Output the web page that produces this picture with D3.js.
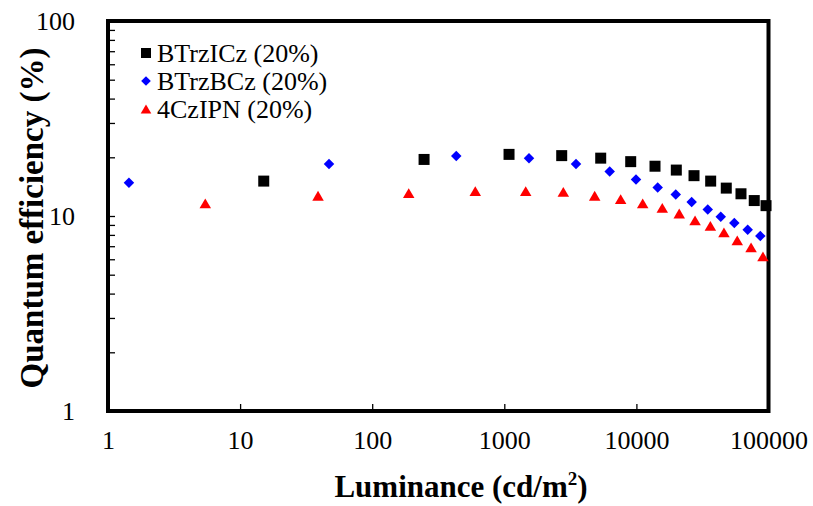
<!DOCTYPE html>
<html><head><meta charset="utf-8">
<script src="https://cdn.jsdelivr.net/npm/d3@7"></script>
<style>body{margin:0;background:#fff}svg{display:block}</style>
</head><body><svg id="c" width="813" height="506"></svg>
<script>
const seriesNames = ["BTrzICz (20%)", "BTrzBCz (20%)", "4CzIPN (20%)"];
const seriesColors = ["#000000", "#0000ff", "#ff0000"];
const btrzIczLum = [15.1, 247, 1086, 2720, 5368, 9055, 13830, 20050, 27300, 36500, 47900, 61900, 78000, 95800];
const btrzIczEQE = [15.1, 19.5, 20.7, 20.4, 19.8, 19.0, 18.0, 17.2, 16.1, 15.1, 13.9, 13.0, 12.0, 11.3];
const btrzBczLum = [1.44, 47.1, 433, 1538, 3490, 6280, 9930, 14500, 19850, 26200, 34700, 43500, 55100, 69600, 86700];
const btrzBczEQE = [14.8, 18.5, 20.3, 19.8, 18.5, 16.9, 15.4, 14.0, 12.9, 11.8, 10.8, 9.9, 9.2, 8.5, 7.9];
const czipnLum = [5.45, 38.9, 189, 603, 1452, 2797, 4833, 7600, 11160, 15700, 21100, 27800, 36300, 46000, 58000, 73800, 90800];
const czipnEQE = [11.6, 12.7, 13.1, 13.4, 13.4, 13.3, 12.7, 12.2, 11.6, 11.0, 10.3, 9.5, 8.9, 8.25, 7.5, 6.9, 6.2];
const xTicks = [1, 10, 100, 1000, 10000, 100000];
const yTicks = [1, 10, 100];
const xTitle = "Luminance (cd/m";
const yTitle = "Quantum efficiency (%)";

const svg = d3.select("#c");
const L = 108, R = 768.5, T = 21, B = 411;
const x = d3.scaleLog().domain([1, 100000]).range([L, R]);
const y = d3.scaleLog().domain([1, 100]).range([B, T]);

const yMinor = [];
for (let d = 1; d < 100; d *= 10) for (let k = 2; k <= 9; k++) yMinor.push(d * k);

const gx = svg.append("g").attr("transform", `translate(0,${B})`)
  .call(d3.axisBottom(x).tickValues(xTicks).tickSize(-7).tickPadding(20).tickFormat(d3.format("d")));
const gy = svg.append("g").attr("transform", `translate(${L},0)`)
  .call(d3.axisLeft(y).tickValues(yTicks.concat(yMinor)).tickSize(-7).tickPadding(33)
    .tickFormat(d => yTicks.includes(d) ? d3.format("d")(d) : ""));
[gx, gy].forEach(g => {
  g.select(".domain").remove();
  g.selectAll(".tick line").attr("stroke", "#000").attr("stroke-width", 1.3);
  g.selectAll(".tick text").attr("font-family", "'Liberation Serif', 'Times New Roman', serif")
    .attr("font-size", 26).attr("fill", "#000");
});

svg.append("rect").attr("x", L).attr("y", T).attr("width", R - L).attr("height", B - T)
  .attr("fill", "none").attr("stroke", "#000").attr("stroke-width", 4);

const diamond = { draw(ctx, size) { const r = Math.sqrt(size) / 2 * 1.05; ctx.moveTo(0, -r); ctx.lineTo(r, 0); ctx.lineTo(0, r); ctx.lineTo(-r, 0); ctx.closePath(); } };
const square = { draw(ctx, size) { const r = Math.sqrt(size) / 2; ctx.rect(-r, -r, 2 * r, 2 * r); } };
const tri = { draw(ctx, size) { const w = Math.sqrt(size) / 2 * 1.15; const h = w * 0.85; ctx.moveTo(0, -h); ctx.lineTo(w, h); ctx.lineTo(-w, h); ctx.closePath(); } };
const shapes = [square, diamond, tri];
const sizes = [121, 100, 100];

const series = [
  [btrzIczLum, btrzIczEQE],
  [btrzBczLum, btrzBczEQE],
  [czipnLum, czipnEQE]
];
series.forEach((s, i) => {
  const pts = s[0].map((v, j) => [v, s[1][j]]);
  svg.append("g").selectAll("path").data(pts).join("path")
    .attr("d", d3.symbol().type(shapes[i]).size(sizes[i]))
    .attr("transform", d => `translate(${x(d[0])},${y(d[1])})`)
    .attr("fill", seriesColors[i]);
});

const legY = [53, 81, 109];
seriesNames.forEach((n, i) => {
  svg.append("path").attr("d", d3.symbol().type(shapes[i]).size(i === 0 ? 100 : 85)())
    .attr("transform", `translate(146,${legY[i]})`).attr("fill", seriesColors[i]);
  svg.append("text").attr("x", 157).attr("y", legY[i]).attr("dy", "0.35em")
    .attr("font-family", "'Liberation Serif', 'Times New Roman', serif").attr("font-size", 26)
    .attr("fill", "#000").text(n);
});

const xt = svg.append("text").attr("x", 461).attr("y", 497).attr("text-anchor", "middle")
  .attr("font-family", "'Liberation Serif', 'Times New Roman', serif").attr("font-weight", "bold")
  .attr("font-size", 31).attr("fill", "#000");
xt.append("tspan").text(xTitle);
xt.append("tspan").attr("font-size", 19).attr("dy", -12).text("2");
xt.append("tspan").attr("dy", 12).text(")");

svg.append("text").attr("transform", "translate(43,218) rotate(-90)").attr("text-anchor", "middle")
  .attr("font-family", "'Liberation Serif', 'Times New Roman', serif").attr("font-weight", "bold")
  .attr("font-size", 33).attr("fill", "#000").text(yTitle);
</script></body></html>
